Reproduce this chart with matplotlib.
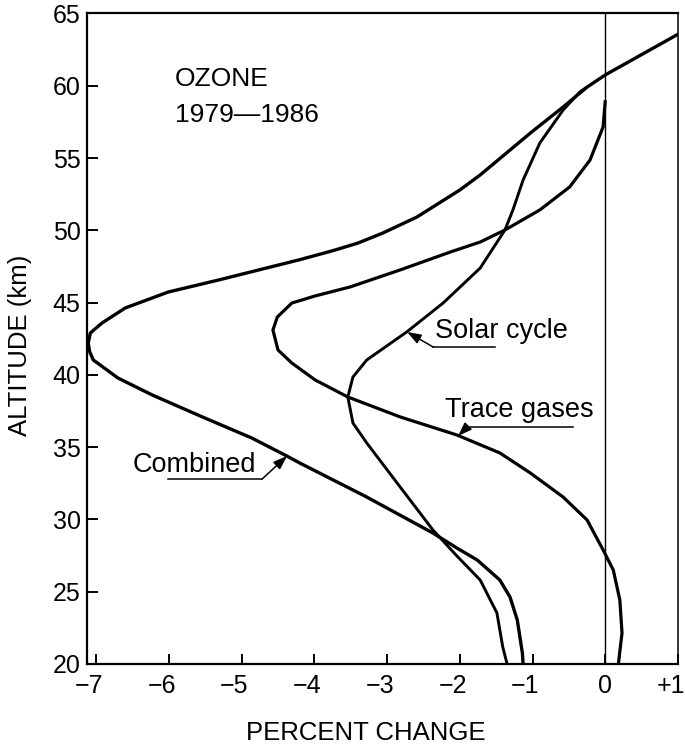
import matplotlib
matplotlib.use('Agg')
import matplotlib.pyplot as plt
import matplotlib.transforms as mtransforms

plt.rcParams['font.family'] = ['Liberation Sans', 'DejaVu Sans']

# Altitude profiles (percent change, altitude km)
combined_pct = [1.20, 1.03, 0.00, -0.25, -0.58, -1.03, -1.72, -2.00, -2.59, -3.06,
                -3.40, -3.74, -4.20, -5.32, -6.01, -6.60, -6.92, -7.08, -7.11, -7.09,
                -7.04, -6.70, -6.23, -5.54, -4.86, -4.38, -4.20, -3.28, -2.37, -2.04,
                -1.76, -1.45, -1.31, -1.21, -1.14, -1.13]
combined_alt = [64.30, 63.65, 60.75, 59.91, 58.53, 56.73, 53.83, 52.79, 50.92, 49.81,
                49.12, 48.60, 47.97, 46.56, 45.73, 44.63, 43.59, 42.90, 42.20, 41.60,
                41.03, 39.78, 38.61, 37.09, 35.63, 34.39, 33.90, 31.55, 29.06, 28.02,
                27.19, 25.81, 24.63, 23.04, 20.76, 20.00]

solar_pct = [-0.25, -0.35, -0.58, -0.90, -1.13, -1.27, -1.38, -1.72, -2.23, -2.73,
             -3.28, -3.47, -3.54, -3.47, -3.28, -2.82, -2.37, -2.04, -1.72, -1.49,
             -1.41, -1.35]
solar_alt = [59.91, 59.57, 58.32, 56.04, 53.48, 51.41, 50.02, 47.39, 44.97, 42.97,
             41.03, 39.85, 38.47, 36.67, 35.29, 32.24, 29.27, 27.47, 25.81, 23.53,
             21.18, 20.00]

trace_pct = [0.00, -0.03, -0.21, -0.49, -0.90, -1.38, -1.72, -2.13, -2.82, -3.51,
             -3.99, -4.31, -4.51, -4.57, -4.50, -4.31, -3.99, -3.54, -2.82, -2.04,
             -1.45, -1.03, -0.58, -0.25, -0.03, 0.11, 0.20, 0.23, 0.18]
trace_alt = [59.00, 57.15, 54.86, 53.00, 51.41, 50.02, 49.19, 48.50, 47.26, 46.08,
             45.46, 44.97, 44.00, 43.10, 41.72, 40.82, 39.65, 38.47, 37.09, 35.84,
             34.60, 33.21, 31.55, 29.96, 27.89, 26.50, 24.43, 22.14, 20.00]

x_ticks = [-7, -6, -5, -4, -3, -2, -1, 0, 1]
x_tick_labels = ['\u22127', '\u22126', '\u22125', '\u22124', '\u22123',
                 '\u22122', '\u22121', '0', '+1']
y_ticks = [20, 25, 30, 35, 40, 45, 50, 55, 60, 65]

fig = plt.figure(figsize=(6.85, 7.49), dpi=100)
ax = fig.add_axes([0.1277, 0.1135, 0.8621, 0.8685])

# The three profiles
ax.plot(combined_pct, combined_alt, color='black', linewidth=2.4, solid_capstyle='butt')
ax.plot(trace_pct, trace_alt, color='black', linewidth=2.3, solid_capstyle='butt')
ax.plot(solar_pct, solar_alt, color='black', linewidth=2.1, solid_capstyle='butt')

# Zero line
ax.axvline(0, color='black', linewidth=1.0)

ax.set_xlim(-7.12, 1.0)
ax.set_ylim(20, 65)

# Axes frame and ticks
for side in ['left', 'bottom', 'top']:
    ax.spines[side].set_linewidth(1.6)
ax.spines['right'].set_linewidth(1.1)

ax.set_xticks(x_ticks)
ax.set_xticklabels(x_tick_labels)
ax.set_yticks(y_ticks)
ax.tick_params(axis='both', direction='in', width=1.4, labelsize=18)
ax.tick_params(axis='x', length=7, pad=7)
ax.tick_params(axis='y', length=8, pad=5)

# Digits sit centred under the tick, sign hangs to the left
shift = mtransforms.ScaledTranslation(5.0 / 72, 0, fig.dpi_scale_trans)
for lab in ax.get_xticklabels():
    lab.set_horizontalalignment('right')
    lab.set_transform(lab.get_transform() + shift)

ax.set_xlabel('PERCENT CHANGE', fontsize=18.5)
ax.set_ylabel('ALTITUDE (km)', fontsize=18.5)
ax.xaxis.set_label_coords(0.4716, -0.106)
ax.xaxis.label.set_va('center')
ax.yaxis.set_label_coords(-0.114, 0.49)
ax.yaxis.label.set_va('center')

# Title block
ax.text(-5.914, 59.98, 'OZONE', fontsize=19, ha='left', va='baseline')
ax.text(-5.914, 57.49, '1979\u20141986', fontsize=19, ha='left', va='baseline')

# Curve labels with underline and leader arrow
labels = [
    ('Solar cycle', -2.34, 42.55, -2.368, -1.516, 41.93, (-2.725, 42.97)),
    ('Trace gases', -2.203, 37.09, -1.90, -0.443, 36.39, (-2.024, 35.77)),
    ('Combined', -6.505, 33.28, -6.010, -4.718, 32.80, (-4.375, 34.39)),
]
for text, tx, ty, ux0, ux1, uy, tip in labels:
    ax.text(tx, ty, text, fontsize=19.5, ha='left', va='baseline')
    ax.plot([ux0, ux1], [uy, uy], color='black', linewidth=1.1)
    start = (ux1, uy) if text == 'Combined' else (ux0, uy)
    ax.annotate('', xy=tip, xytext=start,
                arrowprops=dict(arrowstyle='-|>,head_length=0.7,head_width=0.25',
                                color='black', linewidth=1.1, shrinkA=0, shrinkB=0,
                                mutation_scale=12))

fig.savefig('out.png', dpi=100)
